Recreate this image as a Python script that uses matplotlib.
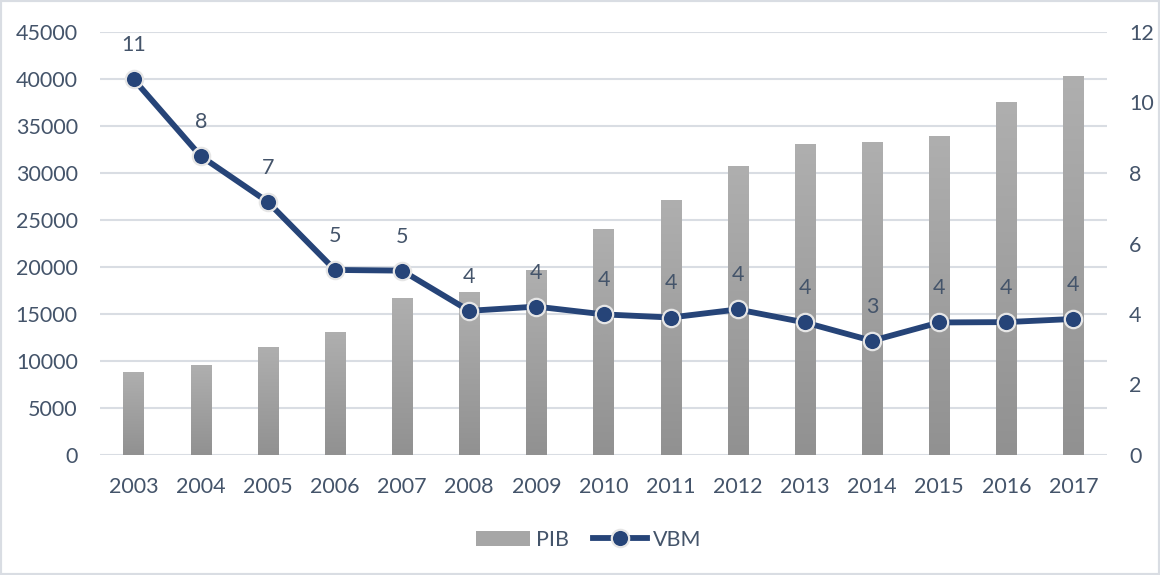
import numpy as np
import matplotlib
matplotlib.use("Agg")
import matplotlib.pyplot as plt
from matplotlib.colors import LinearSegmentedColormap
from matplotlib.lines import Line2D
from matplotlib.patches import Patch, Rectangle

years = ["2003", "2004", "2005", "2006", "2007", "2008", "2009", "2010",
         "2011", "2012", "2013", "2014", "2015", "2016", "2017"]
pib = [8830, 9570, 11490, 13090, 16700, 17340, 19680, 24040,
       27130, 30750, 33090, 33300, 33940, 37550, 40320]
vbm = [10.66, 8.48, 7.18, 5.25, 5.23, 4.09, 4.21, 3.99,
       3.90, 4.13, 3.76, 3.24, 3.76, 3.77, 3.86]

text_col = "#44546a"
line_col = "#264478"
grid_col = "#d9dde3"
fs = 15.5

plt.rcParams["font.family"] = ["Lato", "DejaVu Sans"]
plt.rcParams["font.size"] = fs

fig = plt.figure(figsize=(11.6, 5.75), dpi=100)
ax = fig.add_axes([100 / 1160, 1 - 455 / 575, 1007 / 1160, 423 / 575])
ax2 = ax.twinx()

x = np.arange(len(years))
bars = ax.bar(x, pib, width=0.3, color="#a3a3a3", zorder=2)

# vertical gradient on each bar
cmap = LinearSegmentedColormap.from_list("g", ["#919191", "#afafaf"])
grad = np.linspace(0, 1, 256).reshape(-1, 1)
for b in bars:
    x0, w, h = b.get_x(), b.get_width(), b.get_height()
    im = ax.imshow(grad, cmap=cmap, origin="lower", aspect="auto",
                   extent=[x0, x0 + w, 0, h], zorder=2.1)
    im.set_clip_path(b)

ax.set_xlim(-0.5, len(years) - 0.5)
ax.set_ylim(0, 45000)
ax.set_yticks(np.arange(0, 45001, 5000))
ax.set_xticks(x)
ax.set_xticklabels(years)
ax.yaxis.grid(True, color=grid_col, linewidth=1.5, zorder=0)
ax.set_axisbelow(True)

ax2.plot(x, vbm, color=line_col, linewidth=4.2, marker="o", markersize=12.5,
         markerfacecolor=line_col, markeredgecolor="#e6e6e6",
         markeredgewidth=1.6, zorder=5)
ax2.set_ylim(0, 12)
ax2.set_yticks(np.arange(0, 13, 2))
for xi, v in zip(x, vbm):
    ax2.annotate(f"{v:.0f}", (xi, v), xytext=(0, 24.5), textcoords="offset points",
                 ha="center", va="center", color=text_col, fontsize=fs)

for a in (ax, ax2):
    for s in a.spines.values():
        s.set_visible(False)
    a.tick_params(length=0, colors=text_col, labelsize=fs)
ax.tick_params(axis="y", pad=16)
ax.tick_params(axis="x", pad=16)
ax2.tick_params(axis="y", pad=16)

handles = [Patch(facecolor="#a6a6a6", edgecolor="none"),
           Line2D([0], [0], color=line_col, linewidth=4.2, marker="o",
                  markersize=12.5, markerfacecolor=line_col,
                  markeredgecolor="#e6e6e6", markeredgewidth=1.6)]
fig.legend(handles, ["PIB", "VBM"], loc="center", bbox_to_anchor=(589 / 1160, 1 - 540 / 575),
           ncol=2, frameon=False, labelcolor=text_col, fontsize=fs,
           handlelength=2.5, handleheight=0.7, columnspacing=1.1, handletextpad=0.3)

fig.patches.append(Rectangle((0, 0), 1, 1, transform=fig.transFigure,
                             fill=False, edgecolor=grid_col, linewidth=3))

fig.savefig("out.png", dpi=100)
